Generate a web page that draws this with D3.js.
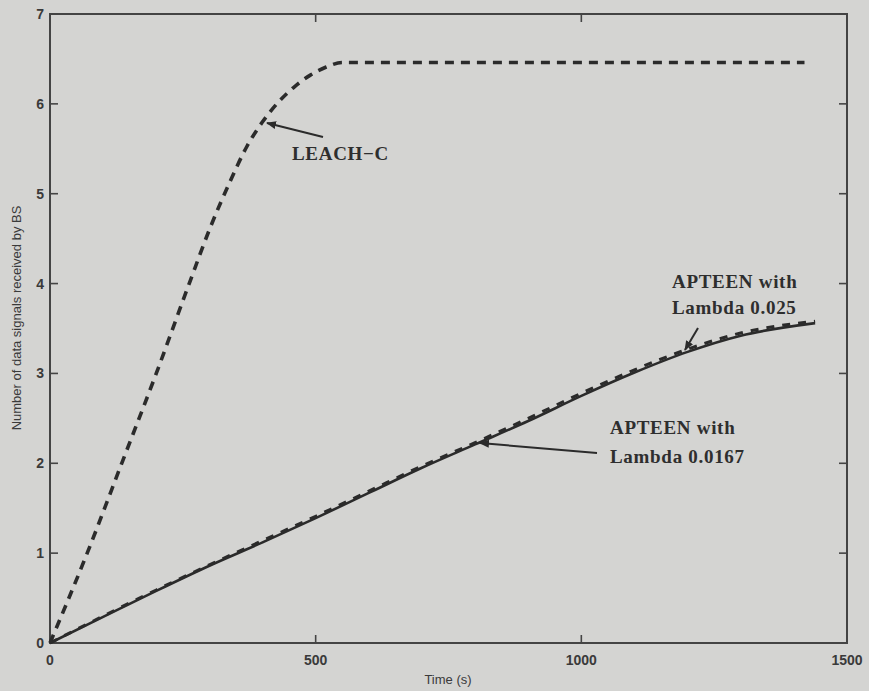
<!DOCTYPE html>
<html>
<head>
<meta charset="utf-8">
<script src="https://cdn.jsdelivr.net/npm/d3@7"></script>
<style>
  body { margin: 0; background: #d4d4d2; }
  svg { display: block; }
</style>
</head>
<body>
<svg width="869" height="691"></svg>
<script>
// time (s) and number of data signals received by BS
const leachT = [0, 70, 135, 200, 262, 300, 340, 370, 400, 430, 460, 490, 520, 550, 1420]
const leachV = [0, 1, 2, 3, 4, 4.6, 5.15, 5.52, 5.8, 6.02, 6.19, 6.32, 6.41, 6.46, 6.46]

const apt167T = [0, 100, 200, 300, 400, 500, 600, 700, 800, 900, 1000, 1100, 1200, 1300, 1440]
const apt167V = [0, 0.29, 0.58, 0.86, 1.12, 1.39, 1.67, 1.95, 2.21, 2.47, 2.75, 3.01, 3.24, 3.42, 3.56]

const apt025T = [0, 100, 200, 300, 400, 500, 600, 700, 800, 900, 1000, 1100, 1200, 1300, 1440]
const apt025V = [0, 0.3, 0.59, 0.87, 1.14, 1.41, 1.69, 1.97, 2.23, 2.5, 2.78, 3.04, 3.27, 3.45, 3.58]

const xTicks = [0, 500, 1000, 1500]
const yTicks = [0, 1, 2, 3, 4, 5, 6, 7]

const svg = d3.select('svg')
const ink = '#2b2b2b'

const x = d3.scaleLinear().domain([0, 1500]).range([50, 847])
const y = d3.scaleLinear().domain([0, 7]).range([643, 14])

const line = d3.line()
    .x(d => x(d[0]))
    .y(d => y(d[1]))
    .curve(d3.curveMonotoneX)

// axes box
svg.append('rect')
    .attr('x', 50).attr('y', 14)
    .attr('width', 797).attr('height', 629)
    .attr('fill', 'none')
    .attr('stroke', '#444')
    .attr('stroke-width', 2)

// ticks, matlab style (inward, all four sides)
const tickLen = 8
const tk = svg.append('g').attr('stroke', '#444').attr('stroke-width', 1.6)
xTicks.forEach(t => {
    tk.append('line').attr('x1', x(t)).attr('x2', x(t)).attr('y1', 643).attr('y2', 643 - tickLen)
    tk.append('line').attr('x1', x(t)).attr('x2', x(t)).attr('y1', 14).attr('y2', 14 + tickLen)
})
yTicks.forEach(t => {
    tk.append('line').attr('x1', 50).attr('x2', 50 + tickLen).attr('y1', y(t)).attr('y2', y(t))
    tk.append('line').attr('x1', 847).attr('x2', 847 - tickLen).attr('y1', y(t)).attr('y2', y(t))
})

const labels = svg.append('g')
    .attr('font-family', 'Liberation Sans, Arial, sans-serif')
    .attr('font-size', 14)
    .attr('font-weight', 'bold')
    .attr('fill', '#3a3a3a')

labels.selectAll('.xt').data(xTicks).join('text')
    .attr('x', d => x(d)).attr('y', 665)
    .attr('text-anchor', 'middle')
    .text(d => d)

labels.selectAll('.yt').data(yTicks).join('text')
    .attr('x', 44).attr('y', d => y(d) + 5)
    .attr('text-anchor', 'end')
    .text(d => d)

labels.append('text')
    .attr('x', 448).attr('y', 684)
    .attr('text-anchor', 'middle')
    .attr('font-size', 13)
    .attr('font-weight', 'normal')
    .text('Time (s)')

labels.append('text')
    .attr('transform', 'translate(21, 318) rotate(-90)')
    .attr('text-anchor', 'middle')
    .attr('font-size', 13)
    .attr('font-weight', 'normal')
    .text('Number of data signals received by BS')

// series
svg.append('path')
    .datum(d3.zip(apt167T, apt167V))
    .attr('d', line)
    .attr('fill', 'none')
    .attr('stroke', ink)
    .attr('stroke-width', 2.6)

svg.append('path')
    .datum(d3.zip(apt025T, apt025V))
    .attr('d', line)
    .attr('fill', 'none')
    .attr('stroke', ink)
    .attr('stroke-width', 3)
    .attr('stroke-dasharray', '8,8')

svg.append('path')
    .datum(d3.zip(leachT, leachV))
    .attr('d', line)
    .attr('fill', 'none')
    .attr('stroke', ink)
    .attr('stroke-width', 3.6)
    .attr('stroke-dasharray', '9,7')

// annotations
const defs = svg.append('defs')
defs.append('marker')
    .attr('id', 'head')
    .attr('viewBox', '0 0 10 10')
    .attr('refX', 9).attr('refY', 5)
    .attr('markerWidth', 5).attr('markerHeight', 5)
    .attr('orient', 'auto')
    .append('path')
    .attr('d', 'M0,1 L10,5 L0,9 Z')
    .attr('fill', ink)

const arrows = [
    [323, 137, 267, 123],
    [698, 328, 685, 350],
    [597, 453, 480, 443]
]
arrows.forEach(a => {
    svg.append('line')
        .attr('x1', a[0]).attr('y1', a[1])
        .attr('x2', a[2]).attr('y2', a[3])
        .attr('stroke', ink)
        .attr('stroke-width', 2)
        .attr('marker-end', 'url(#head)')
})

const notes = svg.append('g')
    .attr('font-family', 'Liberation Serif, Times New Roman, serif')
    .attr('font-weight', 'bold')
    .attr('font-size', 19)
    .attr('letter-spacing', 0.7)
    .attr('fill', '#2e2e2e')

notes.append('text').attr('x', 292).attr('y', 160).text('LEACH\u2212C')
notes.append('text').attr('x', 672).attr('y', 288).text('APTEEN with')
notes.append('text').attr('x', 672).attr('y', 314).text('Lambda 0.025')
notes.append('text').attr('x', 610).attr('y', 434).text('APTEEN with')
notes.append('text').attr('x', 610).attr('y', 463).text('Lambda 0.0167')
</script>
</body>
</html>
